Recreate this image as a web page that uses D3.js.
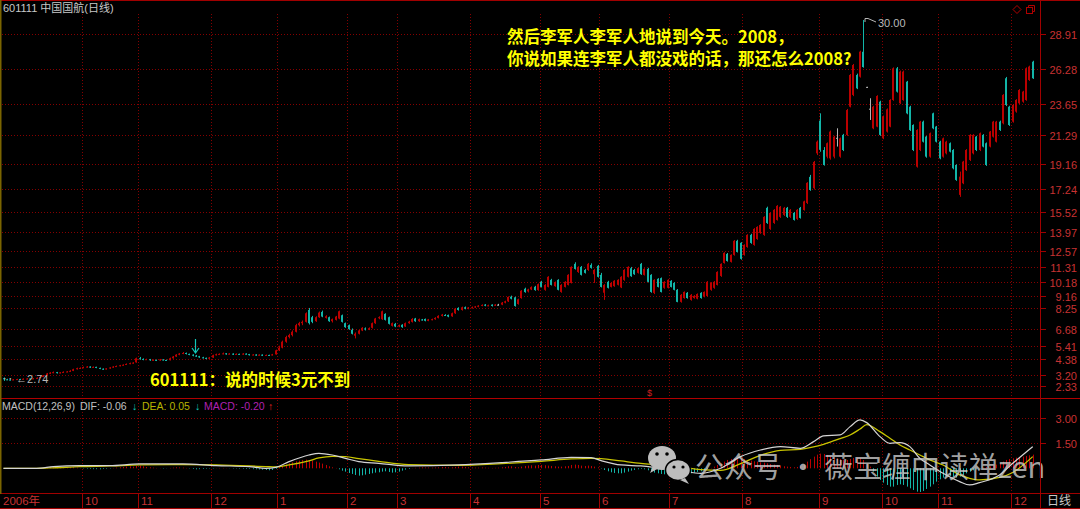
<!DOCTYPE html>
<html><head><meta charset="utf-8">
<script src="https://cdn.jsdelivr.net/npm/d3@7"></script>
<style>
html,body{margin:0;padding:0;background:#000;}
svg{display:block;}
</style></head>
<body>
<svg id="c" width="1080" height="509"></svg>
<script>
// ---------------- DATA ----------------
// daily candles [open, high, low, close], one array per month
const sep2006=[[2.95,3.00,2.74,2.86],[2.86,2.90,2.80,2.84],[2.84,2.86,2.78,2.82],[2.82,2.88,2.80,2.85],[2.85,2.90,2.83,2.88],[2.88,2.90,2.84,2.86],[2.86,2.93,2.85,2.90],[2.90,2.95,2.88,2.92],[2.92,2.94,2.87,2.89],[2.89,2.95,2.88,2.93],[2.93,3.00,2.92,2.97],[2.97,3.08,2.95,3.04],[3.04,3.18,3.02,3.15],[3.15,3.34,3.12,3.30],[3.30,3.40,3.26,3.36],[3.36,3.45,3.32,3.40],[3.40,3.42,3.30,3.35],[3.35,3.40,3.31,3.38],[3.38,3.46,3.36,3.42],[3.42,3.48,3.40,3.45],[3.45,3.55,3.43,3.50],[3.50,3.66,3.48,3.62],[3.62,3.74,3.60,3.70],[3.70,3.76,3.64,3.72]];
const oct2006=[[3.72,3.82,3.70,3.78],[3.78,3.86,3.75,3.82],[3.82,3.84,3.72,3.76],[3.76,3.83,3.74,3.80],[3.80,3.81,3.70,3.72],[3.72,3.74,3.63,3.66],[3.66,3.68,3.58,3.62],[3.62,3.70,3.60,3.68],[3.68,3.78,3.66,3.75],[3.75,3.85,3.73,3.82],[3.82,3.90,3.80,3.86],[3.86,3.95,3.84,3.92],[3.92,3.99,3.90,3.96],[3.96,4.06,3.94,4.02],[4.02,4.12,4.00,4.08],[4.08,4.15,4.04,4.12],[4.14,4.50,4.12,4.45]];
const nov2006=[[4.45,4.55,4.36,4.40],[4.40,4.44,4.30,4.35],[4.35,4.42,4.32,4.38],[4.38,4.40,4.26,4.30],[4.30,4.36,4.27,4.33],[4.33,4.35,4.24,4.28],[4.28,4.40,4.26,4.36],[4.36,4.38,4.28,4.32],[4.32,4.35,4.26,4.30],[4.30,4.50,4.29,4.45],[4.45,4.62,4.42,4.58],[4.58,4.76,4.55,4.72],[4.72,4.85,4.68,4.80],[4.80,4.92,4.76,4.85],[4.85,4.88,4.74,4.78],[4.78,4.80,4.68,4.72],[4.72,4.75,4.60,4.65],[4.65,4.70,4.56,4.60],[4.60,4.63,4.48,4.52],[4.52,4.56,4.44,4.48],[4.48,4.50,4.38,4.42],[4.42,4.55,4.40,4.50]];
const dec2006=[[4.50,4.72,4.48,4.68],[4.68,4.80,4.66,4.75],[4.75,4.82,4.70,4.78],[4.78,4.88,4.75,4.82],[4.82,4.84,4.72,4.76],[4.76,4.84,4.74,4.80],[4.80,4.82,4.70,4.72],[4.72,4.82,4.70,4.78],[4.78,4.80,4.70,4.74],[4.74,4.84,4.72,4.80],[4.80,4.82,4.73,4.76],[4.76,4.78,4.66,4.70],[4.70,4.76,4.68,4.73],[4.73,4.75,4.64,4.68],[4.68,4.75,4.66,4.72],[4.72,4.74,4.62,4.65],[4.65,4.73,4.63,4.70],[4.70,4.72,4.64,4.68],[4.68,4.78,4.66,4.74],[4.74,5.10,4.72,5.05]];
const jan2007=[[5.05,5.40,5.00,5.25],[5.25,5.78,5.20,5.70],[5.70,6.15,5.62,6.05],[6.05,6.30,5.95,6.20],[6.20,6.55,6.10,6.45],[6.45,7.05,6.40,6.95],[6.95,7.20,6.85,7.10],[7.10,7.30,6.95,7.20],[7.20,7.92,7.15,7.85],[8.10,8.25,7.00,7.10],[7.55,7.65,7.10,7.20],[7.25,7.62,7.20,7.55],[7.55,7.98,7.50,7.90],[7.95,8.05,7.55,7.60],[7.50,7.70,7.45,7.62],[7.55,7.60,7.20,7.25],[7.25,7.45,7.15,7.40],[7.35,7.65,7.30,7.60],[7.45,8.05,7.40,8.00],[7.70,7.75,7.15,7.20],[7.10,7.15,6.75,6.80]];
const feb2007=[[6.95,7.00,6.60,6.65],[6.60,6.70,6.25,6.30],[6.15,6.40,5.95,6.30],[6.30,6.60,6.25,6.55],[6.55,6.80,6.50,6.75],[6.70,6.78,6.55,6.62],[6.62,6.78,6.58,6.72],[6.75,7.15,6.70,7.10],[7.10,7.50,7.05,7.45],[7.50,7.62,7.40,7.55],[7.40,8.05,7.35,8.00],[7.80,7.85,7.30,7.35],[7.55,7.60,7.00,7.05],[6.90,7.15,6.85,7.10],[7.05,7.12,6.80,6.85]];
const mar2007=[[6.85,7.00,6.80,6.95],[6.98,7.02,6.75,6.80],[6.85,7.15,6.82,7.10],[7.10,7.28,7.05,7.22],[7.20,7.48,7.15,7.42],[7.45,7.50,7.20,7.25],[7.25,7.45,7.20,7.40],[7.38,7.42,7.30,7.35],[7.42,7.45,7.24,7.28],[7.28,7.42,7.25,7.38],[7.35,7.44,7.32,7.40],[7.40,7.55,7.36,7.50],[7.50,7.70,7.46,7.65],[7.65,7.80,7.60,7.75],[7.72,7.78,7.64,7.70],[7.72,7.75,7.55,7.60],[7.62,7.90,7.58,7.85],[7.85,8.25,7.80,8.20],[8.25,8.30,8.05,8.10],[8.10,8.35,8.05,8.30],[8.30,8.36,8.15,8.20],[8.20,8.32,8.15,8.28]];
const apr2007=[[8.28,8.36,8.22,8.30],[8.30,8.40,8.26,8.36],[8.35,8.46,8.30,8.42],[8.42,8.52,8.38,8.48],[8.50,8.54,8.38,8.42],[8.42,8.50,8.38,8.45],[8.50,8.52,8.36,8.40],[8.42,8.54,8.40,8.50],[8.50,8.56,8.44,8.50],[8.50,8.70,8.46,8.65],[8.65,8.80,8.60,8.75],[8.75,9.12,8.70,9.08],[9.10,9.18,8.90,8.95],[9.05,9.10,8.35,8.40],[8.55,8.95,8.50,8.90],[9.00,9.60,8.95,9.55],[9.70,9.78,9.40,9.45],[9.50,9.70,9.42,9.65],[9.65,9.88,9.60,9.82],[9.85,9.92,9.55,9.60],[9.60,10.10,9.55,10.05]];
const may2007=[[10.22,10.30,9.80,9.84],[9.62,10.05,9.55,9.99],[9.84,10.65,9.80,10.60],[10.37,10.45,9.95,9.99],[9.90,10.25,9.85,10.20],[10.37,10.42,9.58,9.62],[9.46,10.05,9.40,9.99],[9.84,10.28,9.80,10.22],[9.99,10.80,9.95,10.75],[10.14,11.40,10.10,11.35],[11.58,11.70,11.15,11.20],[10.97,11.40,10.90,11.35],[11.35,11.42,10.70,10.75],[11.12,11.20,10.85,10.90],[11.12,11.65,11.05,11.58],[11.50,11.62,11.22,11.28],[10.80,11.20,10.14,11.12],[11.43,11.50,10.55,10.60]];
const jun2007=[[10.75,10.90,9.80,9.84],[9.40,10.05,8.86,9.99],[10.22,10.30,9.72,9.77],[9.84,10.20,9.80,10.14],[9.90,10.35,9.85,10.30],[10.00,10.42,9.95,10.37],[9.80,10.65,9.75,10.60],[10.37,11.18,10.30,11.12],[10.60,11.40,10.55,11.35],[11.25,11.35,10.60,10.65],[11.12,11.20,10.75,10.80],[10.90,11.30,10.85,11.25],[11.58,11.65,10.75,10.80],[10.75,11.25,10.70,11.20],[11.20,11.28,10.18,10.22],[10.75,10.80,9.40,9.46],[9.39,10.42,9.30,10.37],[10.45,10.50,9.80,9.84],[10.50,10.55,9.42,9.46],[9.77,10.28,9.70,10.22],[9.77,10.42,9.72,10.37]];
const jul2007=[[10.30,10.35,9.80,9.84],[10.14,10.20,9.58,9.62],[9.62,9.68,8.68,8.71],[8.71,9.30,8.65,9.24],[9.00,9.50,8.95,9.46],[9.39,9.45,8.95,9.00],[8.86,9.30,8.80,9.24],[9.00,9.22,8.95,9.16],[8.95,9.35,8.90,9.30],[9.39,9.44,8.95,9.00],[9.10,9.50,9.05,9.46],[9.16,10.28,9.10,10.22],[9.62,10.20,9.55,10.14],[9.77,10.28,9.70,10.22],[9.99,11.02,9.95,10.97],[10.67,11.62,10.60,11.58],[11.65,12.46,11.60,12.41],[12.33,12.40,11.75,11.80],[11.73,12.30,11.68,12.26],[12.26,13.38,12.20,13.32],[13.32,13.40,12.44,12.48],[13.17,13.22,11.90,11.96]];
const aug2007=[[12.26,13.06,12.20,13.01],[12.86,13.82,12.80,13.77],[13.77,13.85,13.10,13.16],[13.01,14.28,12.95,14.22],[13.46,14.42,13.40,14.37],[13.92,14.58,13.85,14.52],[13.77,15.18,13.70,15.13],[15.81,15.90,14.60,14.67],[14.22,15.48,14.15,15.43],[14.67,15.72,14.60,15.66],[14.90,16.02,14.85,15.96],[15.13,15.95,15.05,15.89],[15.28,15.88,15.20,15.81],[15.81,15.88,15.05,15.13],[15.13,15.72,15.05,15.66],[15.43,15.50,14.85,14.90],[14.98,15.72,14.90,15.66],[15.81,15.88,15.00,15.05],[15.65,16.35,15.60,16.30],[16.18,17.75,16.10,17.70],[18.15,18.30,17.10,17.16],[17.30,19.35,17.20,19.28],[19.93,20.90,19.80,20.81]];
const sep2007=[[22.40,22.95,20.05,20.20],[20.18,20.40,19.00,19.05],[19.68,20.75,19.55,20.69],[19.55,21.65,19.45,21.57],[19.68,21.25,19.55,21.19],[21.10,21.82,20.44,21.10],[19.68,21.12,19.60,21.06],[21.32,21.40,20.10,20.18],[21.32,23.28,21.25,23.20],[23.45,25.92,23.40,25.85],[24.34,26.68,24.25,26.60],[25.85,25.95,24.78,24.84],[25.72,27.68,25.65,27.61],[27.60,30.00,26.40,26.45],[24.95,24.95,24.95,24.95],[23.30,24.09,22.45,23.30],[21.82,23.52,21.75,23.45],[21.95,24.32,21.90,24.26],[23.83,23.90,21.25,21.32]];
const oct2007=[[21.06,22.78,21.00,22.70],[21.57,23.32,21.50,23.25],[21.95,24.02,21.90,23.96],[23.96,26.42,23.90,26.35],[26.35,26.45,24.52,24.59],[23.71,26.18,23.65,26.10],[23.96,26.18,23.90,26.10],[25.34,25.40,22.88,22.95],[23.45,23.52,21.62,21.69],[22.07,22.12,20.10,20.18],[18.92,21.75,18.85,21.69],[20.18,22.38,20.10,22.32],[22.32,22.40,20.75,20.81],[21.19,21.25,19.60,19.68],[19.68,21.50,19.60,21.44],[22.95,23.00,21.75,21.82],[21.95,22.00,20.75,20.81]];
const nov2007=[[20.81,20.88,19.48,19.55],[19.68,21.12,19.60,21.06],[19.93,20.88,19.85,20.81],[20.69,20.75,20.00,20.06],[20.18,20.25,18.72,18.80],[19.05,19.10,17.85,17.92],[16.79,18.55,16.64,18.17],[17.67,19.36,17.60,19.30],[18.67,20.25,18.60,20.18],[19.43,21.38,19.35,21.32],[19.93,21.38,19.85,21.32],[21.19,21.25,20.10,20.18],[20.18,21.50,20.10,21.44],[21.32,21.38,20.38,20.44],[20.69,20.75,18.98,19.05],[20.44,21.62,20.38,21.57],[21.19,22.38,21.12,22.32],[20.81,22.38,20.75,22.32],[22.32,22.40,21.62,21.69],[22.20,24.40,22.12,24.34],[25.60,25.70,23.50,23.58],[23.45,23.52,22.00,22.07]];
const dec2007=[[22.32,23.65,22.25,23.58],[23.08,24.02,23.00,23.96],[23.71,24.78,23.65,24.71],[23.83,24.65,23.75,24.59],[23.96,26.42,23.90,26.35],[25.47,26.55,25.40,26.48],[26.85,26.92,25.55,25.60]];

const monthLabels=["2006年","10","11","12","1","2","3","4","5","6","7","8","9","10","11","12"];
const priceTicks=[28.91,26.28,23.65,21.29,19.16,17.24,15.52,13.97,12.57,11.31,10.18,9.16,8.25,6.68,5.41,4.38,3.20,2.33];
const macdTicks=[3.00,1.50];

// MACD histogram, one value per bar
const macdHist=[
0,0,0,0,0,0,0,0,0,0,0,0.02,
0.04,0.06,0.08,0.1,0.1,0.08,0.06,0.06,0.05,0.06,0.04,
0.02,-0.02,-0.03,-0.04,-0.05,-0.05,-0.06,-0.04,-0.03,-0.02,
0.02,0.04,0.06,0.08,0.1,0.12,0.1,0.14,0.16,0.12,0.08,0.06,0.04,
0.02,0.01,-0.02,-0.01,0.02,0.04,0.06,0.05,0.04,0.02,-0.02,-0.04,-0.06,-0.05,-0.04,-0.03,-0.02,
-0.02,0.01,0.02,0.02,0.01,-0.01,-0.02,-0.02,-0.03,-0.03,-0.04,-0.04,-0.05,-0.06,-0.07,-0.08,-0.1,-0.12,-0.1,-0.04,
0.08,0.14,0.22,0.3,0.36,0.42,0.46,0.5,0.52,0.5,0.46,0.4,0.34,0.28,
0.2,0.12,0.06,0.02,-0.06,-0.14,
-0.2,-0.28,-0.34,-0.4,-0.44,-0.42,-0.38,-0.34,-0.3,-0.26,
-0.24,-0.2,-0.18,-0.22,-0.26,-0.24,-0.2,-0.14,-0.08,-0.04,
0.01,0.03,0.04,0.06,0.05,0.05,0.04,0.05,0.06,0.08,0.08,0.06,0.06,0.08,0.1,0.1,0.08,0.06,
0.05,0.04,0.04,0.05,0.04,0.03,0.02,0.03,0.04,0.06,0.08,0.12,0.12,0.08,0.06,0.1,0.14,0.16,0.18,0.16,0.2,
0.2,0.18,0.16,0.14,0.12,0.1,0.1,0.12,0.14,0.2,0.22,0.2,0.16,0.14,0.16,0.14,0.1,0.06,
-0.02,-0.1,-0.18,-0.24,-0.28,-0.3,-0.3,-0.26,-0.2,-0.14,-0.1,-0.06,-0.04,-0.06,-0.12,-0.2,-0.26,-0.3,-0.34,-0.36,-0.36,
-0.38,-0.4,-0.42,-0.4,-0.38,-0.34,-0.3,-0.26,-0.22,-0.18,-0.12,-0.06,0.02,0.1,0.2,
0.3,0.4,0.5,0.56,0.6,0.62,0.6,0.56,0.5,0.46,0.42,0.4,0.36,0.34,0.3,
0.26,0.22,0.2,0.16,0.12,0.1,0.08,0.06,0.08,0.12,0.2,
0.4,0.55,0.7,0.82,0.88,0.86,0.8,0.72,0.66,0.6,0.56,
0.52,0.5,0.56,0.62,0.64,0.6,0.5,
0.3,0.1,-0.2,-0.5,-0.7,-0.86,
-1.0,-1.1,-1.1,-1.0,-0.96,-1.0,-1.1,-1.2,-1.3,-1.4,-1.42,-1.36,-1.24,-1.1,-0.96,-0.8,-0.66,
-0.56,-0.5,-0.46,-0.5,-0.56,-0.5,-0.4,-0.3,-0.2,-0.12,-0.06,-0.02,0.04,
0.08,0.12,0.16,0.22,0.3,0.4,0.5,0.56,0.6,0.64,0.66,0.7,0.74,0.78,0.82];

// DIF / DEA read at these bar indexes
const macdIdx=[0,10,15,23,32,41,54,64,74,79,82,86,92,95,99,103,107,113,122,137,150,162,171,177,180,186,192,198,204,210,216,222,228,234,240,244,247,252,255,258,260,264,267,270,273,276,279,283,288,291,294,300,304,310];
const difVals=[0,0,0.1,0.16,0.16,0.26,0.26,0.16,0.1,0,0.06,0.4,0.8,0.9,0.8,0.6,0.4,0.3,0.14,0.2,0.34,0.5,0.66,0.64,0.46,0.2,0.14,0,-0.14,-0.3,0,0.7,1.1,1.3,1.2,1.6,1.94,2.0,2.5,2.9,2.74,1.9,1.5,1.54,1.3,0.6,0.2,-0.3,-0.8,-1.0,-0.86,-0.4,0.3,1.3];
const deaVals=[0,0,0.03,0.1,0.14,0.2,0.22,0.2,0.14,0.1,0.08,0.2,0.45,0.62,0.72,0.7,0.58,0.42,0.22,0.18,0.28,0.42,0.56,0.6,0.58,0.44,0.3,0.2,0.08,-0.08,-0.12,0.28,0.78,1.08,1.14,1.28,1.44,1.78,2.0,2.36,2.62,2.2,1.8,1.4,1.1,0.8,0.5,0.2,-0.4,-0.6,-0.7,-0.55,-0.25,0.7];

// ---------------- CHART ----------------
const W=1080,H=509;
const UP="#bb0000", DOWN="#12b5a8", FLAT="#b4b4b4";
const GRID="#850000", AXIS="#a00000", LABEL="#c83232";
const SANS="'Liberation Sans', Arial, 'Noto Sans CJK SC', sans-serif";
const CJK="'Noto Sans CJK SC', 'Noto Sans', sans-serif";

const months=[sep2006,oct2006,nov2006,dec2006,jan2007,feb2007,mar2007,apr2007,may2007,jun2007,jul2007,aug2007,sep2007,oct2007,nov2007,dec2007];
const candles=months.flat();
const monthStart=[]; {let a=0; months.forEach(m=>{monthStart.push(a); a+=m.length;});}
const N=candles.length;

const svg=d3.select("#c");
svg.append("rect").attr("width",W).attr("height",H).attr("fill","#000");

const x=d3.scaleBand().domain(d3.range(N)).range([1.84,1034.36]).padding(0);
const cx=i=>x(i)+x.bandwidth()/2;
const y=d3.scaleLinear().domain([2.74,30]).range([380.9,20]);
const ym=d3.scaleLinear().domain([-1.5,3]).range([493.3,418.3]);

const defs=svg.append("defs");
defs.append("clipPath").attr("id","cm").append("rect").attr("x",0).attr("y",1).attr("width",1040).attr("height",397);
defs.append("clipPath").attr("id","cd").append("rect").attr("x",0).attr("y",399).attr("width",1040).attr("height",94);

// grid
const grid=svg.append("g").attr("stroke",GRID).attr("stroke-dasharray","1,2").attr("stroke-width",1);
priceTicks.forEach(v=>{const yy=Math.round(y(v))+0.5; grid.append("line").attr("x1",2).attr("x2",1040).attr("y1",yy).attr("y2",yy);});
macdTicks.forEach(v=>{const yy=Math.round(ym(v))+0.5; grid.append("line").attr("x1",2).attr("x2",1040).attr("y1",yy).attr("y2",yy);});
monthStart.slice(1).forEach(i=>{const xx=Math.round(x(i))+0.5;
  grid.append("line").attr("x1",xx).attr("x2",xx).attr("y1",14).attr("y2",398);
  grid.append("line").attr("x1",xx).attr("x2",xx).attr("y1",400).attr("y2",493);
});

// candles
const gc=svg.append("g").attr("clip-path","url(#cm)");
candles.forEach((d,i)=>{
  const [o,h,l,c]=d;
  const col=c>o?UP:(c<o?DOWN:FLAT);
  const bx=Math.round(cx(i)-1);
  const yh=y(h), yl=y(l);
  gc.append("rect").attr("x",bx+1).attr("y",yh).attr("width",1).attr("height",Math.max(1,yl-yh)).attr("fill",col);
  const t=y(Math.max(o,c)), b=y(Math.min(o,c));
  gc.append("rect").attr("x",bx).attr("y",t).attr("width",2).attr("height",Math.max(1,b-t)).attr("fill",col);
});

// MACD histogram & lines
const gd=svg.append("g").attr("clip-path","url(#cd)");
macdHist.forEach((v,i)=>{
  if(v===0) return;
  const xx=Math.round(cx(i))+0.5;
  gd.append("line").attr("x1",xx).attr("x2",xx).attr("y1",ym(0)).attr("y2",ym(v))
    .attr("stroke",v>0?UP:DOWN).attr("stroke-width",1);
});
const ptsDif=macdIdx.map((i,k)=>[cx(i),ym(difVals[k])]);
const ptsDea=macdIdx.map((i,k)=>[cx(i),ym(deaVals[k])]);
const ln=d3.line().curve(d3.curveMonotoneX);
gd.append("path").attr("d",ln(ptsDea)).attr("fill","none").attr("stroke","#c8c400").attr("stroke-width",1.3);
gd.append("path").attr("d",ln(ptsDif)).attr("fill","none").attr("stroke","#d4d4d4").attr("stroke-width",1.2);

// watermark (WeChat logo + text)
const wm=svg.append("g");
wm.append("ellipse").attr("cx",662).attr("cy",458).attr("rx",14).attr("ry",12).attr("fill","#bdbdbd");
wm.append("path").attr("d","M653,466 L650,473 L659,468 Z").attr("fill","#bdbdbd");
wm.append("circle").attr("cx",657).attr("cy",454).attr("r",1.8).attr("fill","#000");
wm.append("circle").attr("cx",667).attr("cy",454).attr("r",1.8).attr("fill","#000");
wm.append("ellipse").attr("cx",678).attr("cy",470).attr("rx",12.5).attr("ry",10.5).attr("fill","#bdbdbd").attr("stroke","#000").attr("stroke-width",1.5);
wm.append("path").attr("d","M685,478 L689,484 L680,480 Z").attr("fill","#bdbdbd");
wm.append("circle").attr("cx",674).attr("cy",467).attr("r",1.6).attr("fill","#000");
wm.append("circle").attr("cx",683).attr("cy",467).attr("r",1.6).attr("fill","#000");
wm.append("text").attr("x",695).attr("y",478).attr("font-family",CJK).attr("font-size",29)
  .attr("fill","rgba(205,205,205,0.8)").text("公众号 · 薇宝缠中读禅zen");

// borders & axes
const ax=svg.append("g").attr("stroke",AXIS).attr("stroke-width",1);
ax.append("line").attr("x1",0).attr("x2",W).attr("y1",0.5).attr("y2",0.5);
ax.append("line").attr("x1",0).attr("x2",W).attr("y1",398.5).attr("y2",398.5).attr("stroke","#b00000");
ax.append("line").attr("x1",0).attr("x2",W).attr("y1",493.5).attr("y2",493.5);
ax.append("line").attr("x1",0).attr("x2",W).attr("y1",508.5).attr("y2",508.5);
ax.append("line").attr("x1",1040.5).attr("x2",1040.5).attr("y1",0).attr("y2",H);
svg.append("line").attr("x1",0.75).attr("x2",0.75).attr("y1",0).attr("y2",494).attr("stroke","#7a6400").attr("stroke-width",1.5);
monthStart.slice(1).forEach(i=>{const xx=Math.round(x(i))+0.5;
  ax.append("line").attr("x1",xx).attr("x2",xx).attr("y1",494).attr("y2",508);});

// right axis labels
priceTicks.forEach(v=>{const yy=Math.round(y(v))+0.5;
  ax.append("line").attr("x1",1041).attr("x2",1046).attr("y1",yy).attr("y2",yy);
  svg.append("text").attr("x",1077).attr("y",yy+4).attr("text-anchor","end").attr("font-family",SANS)
    .attr("font-size",11).attr("fill",LABEL).text(v.toFixed(2));});
macdTicks.forEach(v=>{const yy=Math.round(ym(v))+0.5;
  ax.append("line").attr("x1",1041).attr("x2",1046).attr("y1",yy).attr("y2",yy);
  svg.append("text").attr("x",1077).attr("y",yy+4).attr("text-anchor","end").attr("font-family",SANS)
    .attr("font-size",11).attr("fill",LABEL).text(v.toFixed(2));});

// x-axis labels
monthStart.forEach((i,k)=>{
  const xx=k===0?3:Math.round(x(i))+3;
  svg.append("text").attr("x",xx).attr("y",505).attr("font-family",SANS).attr("font-size",11.5)
    .attr("fill",LABEL).text(monthLabels[k]);
});
svg.append("text").attr("x",1047).attr("y",505).attr("font-family",CJK).attr("font-size",12).attr("fill","#c8c8c8").text("日线");

// header
svg.append("text").attr("x",3).attr("y",12).attr("font-family",SANS).attr("font-size",11).attr("fill","#c8c8c8").text("601111 中国国航(日线)");
// top-right icons
svg.append("path").attr("d","M1017,5.5 L1021,9.5 L1017,13.5 L1013,9.5 Z").attr("fill","none").attr("stroke","#b00000");
svg.append("rect").attr("x",1026.5).attr("y",7.5).attr("width",6).attr("height",6).attr("fill","none").attr("stroke","#b00000");
svg.append("path").attr("d","M1028.5,7.5 V5.5 H1034.5 V11.5 H1032.5").attr("fill","none").attr("stroke","#b00000");

// MACD header
const mh=[
  {x:2,t:"MACD(12,26,9)",c:"#c0c0c0"},
  {x:80,t:"DIF: -0.06",c:"#c0c0c0"},
  {x:132,t:"↓",c:"#12c8b8"},
  {x:142,t:"DEA: 0.05",c:"#b8b400"},
  {x:195,t:"↓",c:"#12c8b8"},
  {x:204,t:"MACD: -0.20",c:"#b020b0"},
  {x:268,t:"↑",c:"#e02020"}];
mh.forEach(d=>svg.append("text").attr("x",d.x).attr("y",410).attr("font-family",SANS).attr("font-size",10.5).attr("fill",d.c).text(d.t));

// markers
svg.append("text").attr("x",2).attr("y",383).attr("font-family",SANS).attr("font-size",11).attr("fill","#b8b8b8").text("‥ ←2.74");
svg.append("path").attr("d","M865,22 V18.5 H868 L876,22").attr("fill","none").attr("stroke","#b8b8b8");
svg.append("text").attr("x",878).attr("y",27).attr("font-family",SANS).attr("font-size",11).attr("fill","#b8b8b8").text("30.00");
svg.append("path").attr("d","M195.5,339 V353 M192,348 L195.5,353 L199,348").attr("fill","none").attr("stroke","#12c8b8").attr("stroke-width",1.2);
svg.append("text").attr("x",647).attr("y",396).attr("font-family",SANS).attr("font-size",9).attr("fill","#d02020").text("$");

// annotations
svg.append("text").attr("x",507).attr("y",43).attr("font-family",CJK).attr("font-weight","bold").attr("font-size",16.5).attr("fill","#ffff00").text("然后李军人李军人地说到今天。2008，");
svg.append("text").attr("x",507).attr("y",65).attr("font-family",CJK).attr("font-weight","bold").attr("font-size",16.5).attr("fill","#ffff00").text("你说如果连李军人都没戏的话，那还怎么2008?");
svg.append("text").attr("x",150).attr("y",386).attr("font-family",CJK).attr("font-weight","bold").attr("font-size",16.5).attr("fill","#ffff00").text("601111：说的时候3元不到");
</script>
</body></html>
